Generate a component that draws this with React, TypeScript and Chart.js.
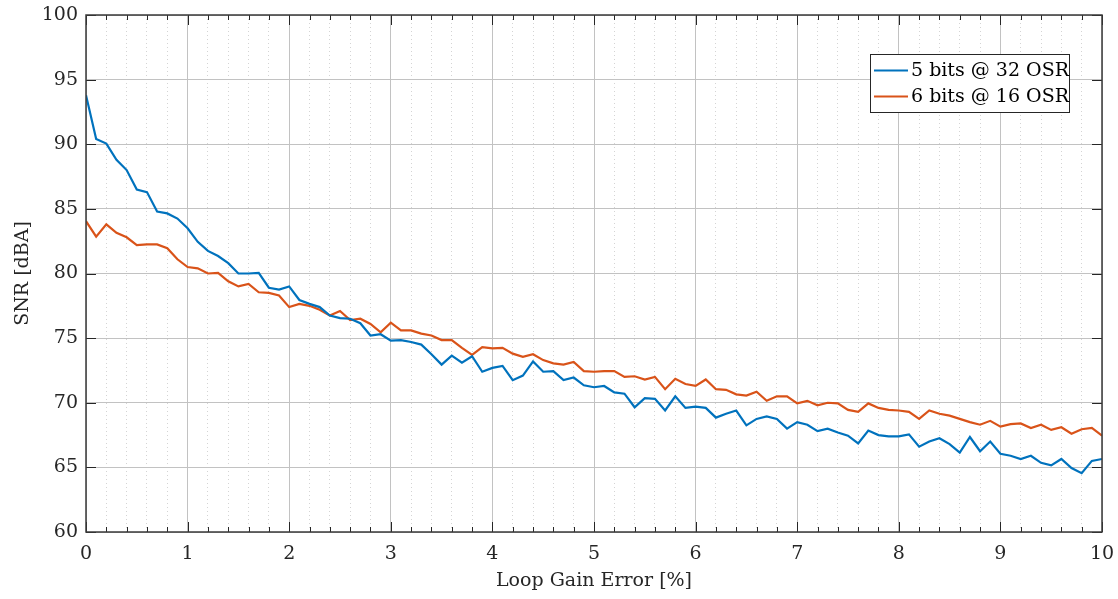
import { useEffect, useRef } from "react";
import { Chart, registerables } from "chart.js";

Chart.register(...registerables);

// Loop gain error sweep [%]
const gainError = [
  0, 0.1, 0.2, 0.3, 0.4, 0.5, 0.6, 0.7, 0.8, 0.9,
  1, 1.1, 1.2, 1.3, 1.4, 1.5, 1.6, 1.7, 1.8, 1.9,
  2, 2.1, 2.2, 2.3, 2.4, 2.5, 2.6, 2.7, 2.8, 2.9,
  3, 3.1, 3.2, 3.3, 3.4, 3.5, 3.6, 3.7, 3.8, 3.9,
  4, 4.1, 4.2, 4.3, 4.4, 4.5, 4.6, 4.7, 4.8, 4.9,
  5, 5.1, 5.2, 5.3, 5.4, 5.5, 5.6, 5.7, 5.8, 5.9,
  6, 6.1, 6.2, 6.3, 6.4, 6.5, 6.6, 6.7, 6.8, 6.9,
  7, 7.1, 7.2, 7.3, 7.4, 7.5, 7.6, 7.7, 7.8, 7.9,
  8, 8.1, 8.2, 8.3, 8.4, 8.5, 8.6, 8.7, 8.8, 8.9,
  9, 9.1, 9.2, 9.3, 9.4, 9.5, 9.6, 9.7, 9.8, 9.9,
  10,
];

// SNR [dBA], 5-bit quantizer at OSR 32
const snr5bit32 = [
  93.8, 90.4, 90.05, 88.8, 88.0, 86.5, 86.3, 84.8, 84.65, 84.25,
  83.5, 82.45, 81.75, 81.35, 80.8, 80.0, 80.0, 80.05, 78.9, 78.75,
  79.0, 77.95, 77.65, 77.4, 76.75, 76.55, 76.5, 76.15, 75.2, 75.3,
  74.8, 74.85, 74.7, 74.5, 73.75, 72.95, 73.65, 73.1, 73.6, 72.4,
  72.7, 72.85, 71.75, 72.1, 73.2, 72.4, 72.45, 71.75, 71.95, 71.35,
  71.2, 71.3, 70.8, 70.7, 69.65, 70.35, 70.3, 69.4, 70.5, 69.6,
  69.7, 69.6, 68.85, 69.15, 69.4, 68.25, 68.75, 68.95, 68.75, 68.0,
  68.5, 68.3, 67.8, 68.0, 67.7, 67.45, 66.85, 67.85, 67.5, 67.4,
  67.4, 67.55, 66.6, 67.0, 67.25, 66.8, 66.15, 67.35, 66.25, 67.0,
  66.05, 65.9, 65.65, 65.9, 65.35, 65.15, 65.65, 64.95, 64.55, 65.5,
  65.65,
];

// SNR [dBA], 6-bit quantizer at OSR 16
const snr6bit16 = [
  84.05, 82.85, 83.8, 83.15, 82.8, 82.2, 82.25, 82.25, 81.95, 81.1,
  80.5, 80.4, 80.0, 80.05, 79.4, 79.0, 79.2, 78.55, 78.5, 78.3,
  77.4, 77.65, 77.5, 77.2, 76.75, 77.1, 76.4, 76.5, 76.1, 75.45,
  76.2, 75.6, 75.6, 75.35, 75.2, 74.85, 74.85, 74.25, 73.7, 74.3,
  74.2, 74.25, 73.8, 73.55, 73.75, 73.3, 73.05, 72.95, 73.15, 72.45,
  72.4, 72.45, 72.45, 72.0, 72.05, 71.8, 72.0, 71.05, 71.85, 71.45,
  71.3, 71.8, 71.05, 71.0, 70.65, 70.55, 70.85, 70.15, 70.5, 70.5,
  69.95, 70.15, 69.8, 70.0, 69.95, 69.45, 69.3, 69.95, 69.6, 69.45,
  69.4, 69.3, 68.75, 69.4, 69.15, 69.0, 68.75, 68.5, 68.3, 68.6,
  68.15, 68.35, 68.4, 68.05, 68.3, 67.9, 68.1, 67.6, 67.95, 68.05,
  67.45,
];

const seriesLabels = ["5 bits @ 32 OSR", "6 bits @ 16 OSR"];
const seriesColors = ["#0072BD", "#D95319"];

const xTitle = "Loop Gain Error [%]";
const yTitle = "SNR [dBA]";

const FONT_FAMILY = '"DejaVu Serif", "Liberation Serif", serif';
const INK = "#262626";
const MAJOR_GRID = "#c2c2c2";
const MINOR_GRID = "#d4d4d4";

const isWhole = (v: number) => Math.abs(v - Math.round(v)) < 1e-6;

// Axes box with inward-facing tick marks on all four sides
const axesBoxPlugin = {
  id: "axesBox",
  afterDatasetsDraw(chart: any) {
    const { ctx, chartArea: a, scales } = chart;
    const snap = (v: number) => Math.round(v) + 0.5;
    ctx.save();
    ctx.strokeStyle = INK;
    ctx.lineWidth = 1;
    ctx.beginPath();
    scales.xMinor.ticks.forEach((t: any) => {
      const px = snap(scales.x.getPixelForValue(t.value));
      const len = isWhole(t.value) ? 10 : 5;
      ctx.moveTo(px, a.bottom);
      ctx.lineTo(px, a.bottom - len);
      ctx.moveTo(px, a.top);
      ctx.lineTo(px, a.top + len);
    });
    scales.y.ticks.forEach((t: any) => {
      const py = snap(scales.y.getPixelForValue(t.value));
      ctx.moveTo(a.left, py);
      ctx.lineTo(a.left + 10, py);
      ctx.moveTo(a.right, py);
      ctx.lineTo(a.right - 10, py);
    });
    ctx.stroke();
    ctx.lineWidth = 1.5;
    ctx.strokeStyle = "#3a3a3a";
    ctx.strokeRect(
      Math.round(a.left),
      Math.round(a.top),
      Math.round(a.right) - Math.round(a.left),
      Math.round(a.bottom) - Math.round(a.top)
    );
    ctx.restore();
  },
};

// Boxed legend in the upper-right corner of the plot area
const boxedLegendPlugin = {
  id: "boxedLegend",
  afterDraw(chart: any) {
    const { ctx, chartArea: a } = chart;
    const w = 199;
    const h = 58;
    const right = Math.round(a.right) - 33;
    const top = Math.round(a.top) + 39;
    const left = right - w;
    ctx.save();
    ctx.fillStyle = "#ffffff";
    ctx.fillRect(left, top, w, h);
    ctx.strokeStyle = INK;
    ctx.lineWidth = 1;
    ctx.strokeRect(left + 0.5, top + 0.5, w, h);
    ctx.font = `19px ${FONT_FAMILY}`;
    ctx.textBaseline = "middle";
    ctx.textAlign = "left";
    chart.data.datasets.forEach((ds: any, i: number) => {
      const y = top + 16.5 + i * 26;
      ctx.strokeStyle = ds.borderColor;
      ctx.lineWidth = 2;
      ctx.beginPath();
      ctx.moveTo(left + 4, y);
      ctx.lineTo(left + 38, y);
      ctx.stroke();
      ctx.fillStyle = "#000000";
      ctx.fillText(ds.label, left + 41, y + 1);
    });
    ctx.restore();
  },
};

export default function App() {
  const canvasRef = useRef<HTMLCanvasElement | null>(null);

  useEffect(() => {
    const canvas = canvasRef.current;
    if (!canvas) return;

    const toPoints = (ys: number[]) => gainError.map((x, i) => ({ x, y: ys[i] }));

    const chart = new Chart(canvas, {
      type: "line",
      data: {
        datasets: [
          {
            label: seriesLabels[0],
            data: toPoints(snr5bit32),
            borderColor: seriesColors[0],
            backgroundColor: seriesColors[0],
            borderWidth: 2.2,
            pointRadius: 0,
            tension: 0,
          },
          {
            label: seriesLabels[1],
            data: toPoints(snr6bit16),
            borderColor: seriesColors[1],
            backgroundColor: seriesColors[1],
            borderWidth: 2.2,
            pointRadius: 0,
            tension: 0,
          },
        ],
      },
      options: {
        animation: false,
        responsive: false,
        maintainAspectRatio: false,
        devicePixelRatio: 1,
        parsing: false,
        normalized: true,
        layout: { padding: { top: 15, right: 16, bottom: 0, left: 0 } },
        plugins: {
          legend: { display: false },
          tooltip: { enabled: false },
        },
        scales: {
          xMinor: {
            type: "linear",
            position: "bottom",
            min: 0,
            max: 10,
            ticks: { display: false, stepSize: 0.2 },
            grid: {
              drawTicks: false,
              color: (c: any) => (isWhole(c.tick.value) ? "rgba(0,0,0,0)" : MINOR_GRID),
              lineWidth: 1,
            },
            border: { display: false, dash: [1, 3] },
            afterFit: (s: any) => {
              s.height = 0;
              s.paddingLeft = 0;
              s.paddingRight = 0;
            },
          },
          x: {
            type: "linear",
            position: "bottom",
            min: 0,
            max: 10,
            ticks: {
              stepSize: 1,
              color: INK,
              padding: 11,
              maxRotation: 0,
              font: { family: FONT_FAMILY, size: 19 },
            },
            grid: { drawTicks: false, color: MAJOR_GRID, lineWidth: 1 },
            border: { display: false },
            title: {
              display: true,
              text: xTitle,
              color: INK,
              font: { family: FONT_FAMILY, size: 19 },
              padding: { top: 0, bottom: 7 },
            },
            afterFit: (s: any) => {
              s.height = 67;
              s.paddingLeft = 0;
              s.paddingRight = 0;
            },
          },
          y: {
            type: "linear",
            position: "left",
            min: 60,
            max: 100,
            ticks: {
              stepSize: 5,
              color: INK,
              padding: 8,
              font: { family: FONT_FAMILY, size: 19 },
            },
            grid: { drawTicks: false, color: MAJOR_GRID, lineWidth: 1 },
            border: { display: false },
            title: {
              display: true,
              text: yTitle,
              color: INK,
              font: { family: FONT_FAMILY, size: 19 },
              padding: { top: 12, bottom: 0 },
            },
            afterFit: (s: any) => {
              s.width = 86;
              s.paddingTop = 0;
              s.paddingBottom = 0;
            },
          },
        },
      },
      plugins: [axesBoxPlugin, boxedLegendPlugin],
    } as any);

    return () => chart.destroy();
  }, []);

  return (
    <div style={{ position: "fixed", left: 0, top: 0, width: 1118, height: 599, background: "#ffffff" }}>
      <canvas ref={canvasRef} width={1118} height={599} style={{ display: "block" }} />
    </div>
  );
}
